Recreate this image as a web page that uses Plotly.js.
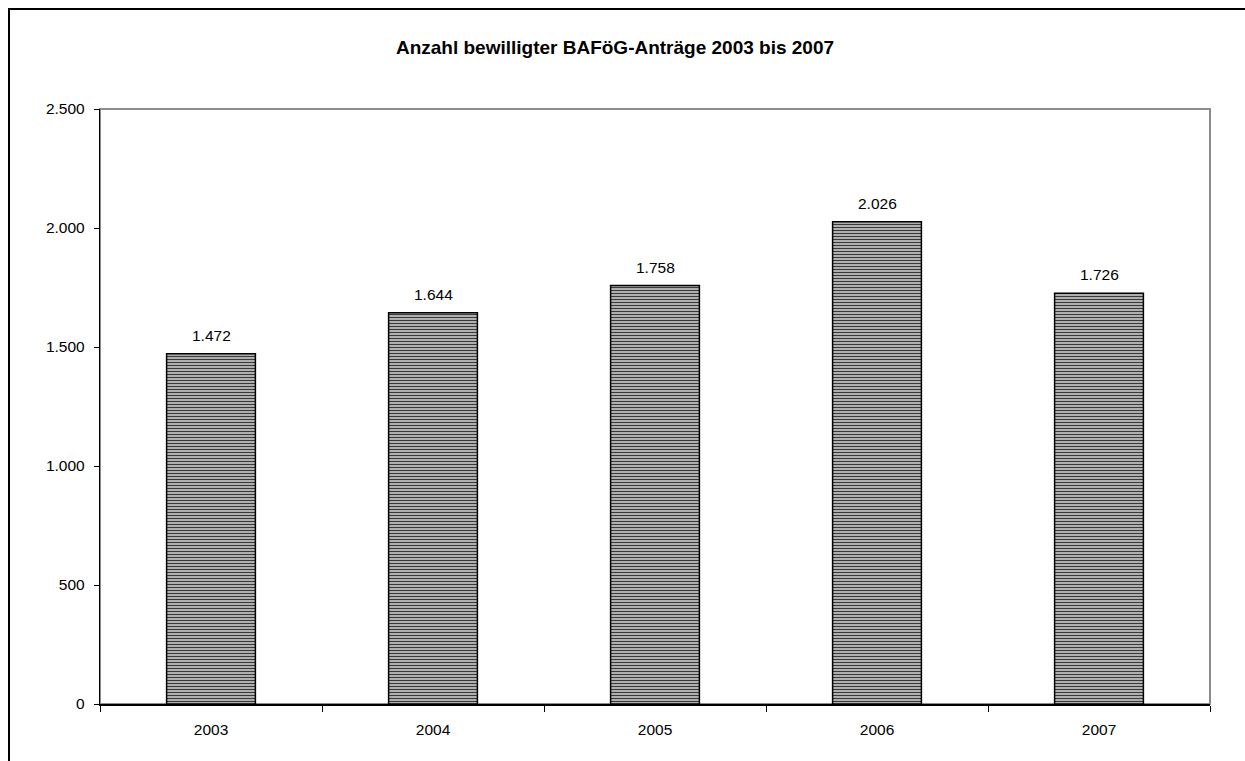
<!DOCTYPE html>
<html><head><meta charset="utf-8">
<script src="https://cdn.plot.ly/plotly-3.0.1.min.js"></script>
<style>
html,body{margin:0;padding:0;background:#fff;overflow:hidden}
#wrap{position:relative;width:1245px;height:761px;overflow:hidden}
#chart{width:1245px;height:761px}
#frame{position:absolute;left:8px;top:8px;width:3000px;height:3000px;border-left:2.5px solid #000;border-top:2.5px solid #000;pointer-events:none}
</style>
</head><body><div id="wrap"><div id="chart"></div><div id="frame"></div></div>
<script>
const years = ['2003','2004','2005','2006','2007'];
const values = [1472, 1644, 1758, 2026, 1726];
const yTicks = [0, 500, 1000, 1500, 2000, 2500];

const fmt = v => v.toLocaleString('de-DE');
const FONT = 'Arial, Liberation Sans, sans-serif';

const trace = {
  type: 'bar', x: years, y: values, width: 0.4,
  marker: {color: '#bbbbbb', line: {color: '#000', width: 1.5},
    pattern: {shape: '-', fgcolor: '#3a3a3a', bgcolor: '#c8c8c8', size: 3, solidity: 0.45}},
  hoverinfo: 'x+y'
};

const annotations = years.map((yr, i) => ({
  x: i, y: values[i], xref: 'x', yref: 'y', text: fmt(values[i]),
  showarrow: false, yanchor: 'bottom', yshift: 8,
  font: {family: FONT, size: 15.5, color: '#000'}
}));

const layout = {
  width: 1245, height: 761,
  margin: {l: 100, r: 35, t: 109, b: 57},
  paper_bgcolor: '#fff', plot_bgcolor: '#fff',
  separators: ',.',
  showlegend: false,
  font: {family: FONT, size: 15.5, color: '#000'},
  title: {text: '<b>Anzahl bewilligter BAFöG-Anträge 2003 bis 2007</b>',
    x: 615/1245, xref: 'container', xanchor: 'center', y: 1 - 47/761, yref: 'container', yanchor: 'middle',
    font: {size: 19, color: '#000'}},
  xaxis: {type: 'category', categoryorder: 'array', categoryarray: years, range: [-0.5, 4.5], autorange: false,
    showgrid: false, showline: true, linecolor: '#000', linewidth: 1.5,
    ticks: 'outside', ticklen: 6, tickcolor: '#000', tickson: 'boundaries', zeroline: false,
    tickangle: 0, ticklabelstandoff: 11, tickfont: {size: 15.5}},
  yaxis: {range: [0, 2500], autorange: false, tickvals: yTicks, ticktext: yTicks.map(fmt), showgrid: false,
    showline: true, linecolor: '#000', linewidth: 1.2, ticks: 'outside', ticklen: 5, tickcolor: '#000',
    zeroline: false, ticklabelstandoff: 6, tickfont: {size: 15.5}},
  annotations: annotations,
  shapes: [
    {type: 'rect', xref: 'paper', yref: 'paper', x0: 0, x1: 1, y0: 0, y1: 1,
      line: {color: '#8c8c8c', width: 2}, layer: 'below'}
  ]
};

Plotly.newPlot('chart', [trace], layout, {displayModeBar: false, staticPlot: true});
</script></body></html>
